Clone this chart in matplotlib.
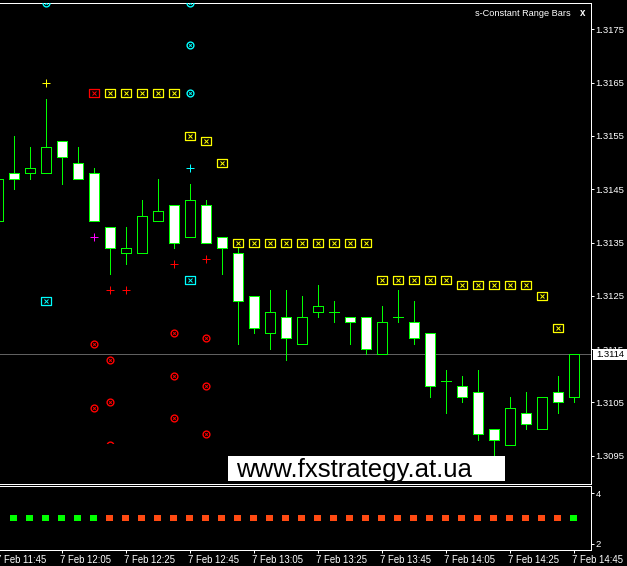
import matplotlib
matplotlib.use('Agg')
import matplotlib.pyplot as plt
from matplotlib.patches import Rectangle
from matplotlib.path import Path
import matplotlib.transforms as mtransforms

plt.rcParams['font.family'] = ['Liberation Sans', 'DejaVu Sans']

# ---------------- data ----------------
bar_index = list(range(-1, 36))
opens  = [1.3139, 1.3148, 1.3148, 1.3148, 1.3154, 1.3150, 1.3148, 1.3138, 1.3133, 1.3133,
          1.3139, 1.3142, 1.3136, 1.3142, 1.3136, 1.3133, 1.3125, 1.3118, 1.3121, 1.3116,
          1.3122, 1.3122, 1.3121, 1.3121, 1.3114, 1.3121, 1.3120, 1.3118, 1.3109, 1.3108,
          1.3107, 1.3100, 1.3097, 1.3103, 1.3100, 1.3107, 1.3106]
highs  = [1.3147, 1.3155, 1.3153, 1.3162, 1.3154, 1.3153, 1.3149, 1.3138, 1.3138, 1.3143,
          1.3147, 1.3142, 1.3146, 1.3143, 1.3136, 1.3134, 1.3125, 1.3126, 1.3126, 1.3125,
          1.3127, 1.3124, 1.3121, 1.3121, 1.3123, 1.3126, 1.3124, 1.3118, 1.3111, 1.3110,
          1.3111, 1.3100, 1.3106, 1.3107, 1.3106, 1.3110, 1.3114]
lows   = [1.3139, 1.3145, 1.3147, 1.3148, 1.3146, 1.3147, 1.3139, 1.3129, 1.3131, 1.3133,
          1.3139, 1.3134, 1.3136, 1.3135, 1.3129, 1.3116, 1.3118, 1.3115, 1.3113, 1.3116,
          1.3121, 1.3120, 1.3116, 1.3114, 1.3114, 1.3120, 1.3116, 1.3106, 1.3103, 1.3105,
          1.3098, 1.3095, 1.3097, 1.3100, 1.3100, 1.3103, 1.3105]
closes = [1.3147, 1.3147, 1.3149, 1.3153, 1.3151, 1.3147, 1.3139, 1.3134, 1.3134, 1.3140,
          1.3141, 1.3135, 1.3143, 1.3135, 1.3134, 1.3124, 1.3119, 1.3122, 1.3117, 1.3121,
          1.3123, 1.3122, 1.3120, 1.3115, 1.3120, 1.3121, 1.3117, 1.3108, 1.3109, 1.3106,
          1.3099, 1.3098, 1.3104, 1.3101, 1.3106, 1.3105, 1.3114]

current_price = 1.3114
price_ticks = [1.3095, 1.3105, 1.3115, 1.3125, 1.3135, 1.3145, 1.3155, 1.3165, 1.3175]

red_box_idx, red_box_px = [5], [1.3163]
yellow_box_idx = [6, 7, 8, 9, 10, 11, 12, 13, 14, 15, 16, 17, 18, 19, 20, 21, 22,
                  23, 24, 25, 26, 27, 28, 29, 30, 31, 32, 33, 34]
yellow_box_px = [1.3163, 1.3163, 1.3163, 1.3163, 1.3163, 1.3155, 1.3154, 1.3150,
                 1.3135, 1.3135, 1.3135, 1.3135, 1.3135, 1.3135, 1.3135, 1.3135, 1.3135,
                 1.3128, 1.3128, 1.3128, 1.3128, 1.3128,
                 1.3127, 1.3127, 1.3127, 1.3127, 1.3127, 1.3125, 1.3119]
cyan_box_idx, cyan_box_px = [2, 11], [1.3124, 1.3128]
cyan_circle_idx = [2, 11, 11, 11]
cyan_circle_px = [1.3180, 1.3180, 1.3172, 1.3163]
yellow_cross_idx, yellow_cross_px = [2], [1.3165]
cyan_cross_idx, cyan_cross_px = [11], [1.3149]
magenta_cross_idx, magenta_cross_px = [5], [1.3136]
red_cross_idx, red_cross_px = [6, 7, 10, 12], [1.3126, 1.3126, 1.3131, 1.3132]
red_circle_idx = [5, 5, 6, 6, 10, 10, 10, 12, 12, 12]
red_circle_px = [1.3116, 1.3104, 1.3113, 1.3105, 1.3118, 1.3110, 1.3102, 1.3117, 1.3108, 1.3099]
red_half_circle_idx, red_half_circle_px = [6], [1.3097]

signal_idx = list(range(0, 36))
signal_dir = [1, 1, 1, 1, 1, 1] + [-1] * 29 + [1]
signal_level = 3

time_tick_idx = [-1, 3, 7, 11, 15, 19, 23, 27, 31, 35]
time_labels = ['7 Feb 11:45', '7 Feb 12:05', '7 Feb 12:25', '7 Feb 12:45', '7 Feb 13:05',
               '7 Feb 13:25', '7 Feb 13:45', '7 Feb 14:05', '7 Feb 14:25', '7 Feb 14:45']

# ---------------- layout ----------------
W, H = 627, 566
fig = plt.figure(figsize=(W / 100, H / 100), dpi=100, facecolor='black')

def fx(px):
    return px / W

def fy(py):
    return 1 - py / H

GREEN = '#00FF00'
LW = 0.72

ax = fig.add_axes([0, fy(483.8), fx(590.5), fy(2.5) - fy(483.8)], facecolor='black')
ax2 = fig.add_axes([0, fy(550.3), fx(590.5), fy(485.8) - fy(550.3)], facecolor='black')

ax.set_xlim(-0.84375, 36.0625)
ax.set_ylim(1.308973, 1.318003)
ax2.set_xlim(-0.84375, 36.0625)
ax2.set_ylim(1.735, 4.29)

for a in (ax, ax2):
    a.spines['left'].set_visible(False)
    for s in ('top', 'right', 'bottom'):
        a.spines[s].set_color('white')
        a.spines[s].set_linewidth(LW)
        a.spines[s].set_antialiased(False)

# candles
for x, o, h, l, c in zip(bar_index, opens, highs, lows, closes):
    ax.vlines(x, l, h, color=GREEN, lw=LW, zorder=2, antialiased=False)
    lo, hi = min(o, c), max(o, c)
    fill = 'white' if c < o else 'black'
    ax.add_patch(Rectangle((x - 0.3125, lo), 0.625, hi - lo, facecolor=fill,
                           edgecolor=GREEN, lw=LW, zorder=3, antialiased=False))

ax.axhline(current_price, color='#606060', lw=LW, zorder=1, antialiased=False)

# markers
box_path = Path([(-4.5, -3.5), (4.5, -3.5), (4.5, 3.5), (-4.5, 3.5), (-4.5, -3.5)],
                [Path.MOVETO, Path.LINETO, Path.LINETO, Path.LINETO, Path.CLOSEPOLY])

def boxes(idx, px, color):
    ax.plot(idx, px, linestyle='none', marker=box_path, markersize=6.5,
            markerfacecolor='black', markeredgecolor=color, markeredgewidth=0.9,
            zorder=4, antialiased=False)
    ax.plot(idx, px, linestyle='none', marker='x', markersize=2.2,
            markeredgecolor=color, markeredgewidth=0.7, zorder=5, antialiased=False)

def circles(idx, px, color, clip=None):
    l1, = ax.plot(idx, px, linestyle='none', marker='o', markersize=4.9,
                  markerfacecolor='none', markeredgecolor=color, markeredgewidth=1.0,
                  zorder=4, antialiased=False)
    l2, = ax.plot(idx, px, linestyle='none', marker='x', markersize=1.8,
                  markeredgecolor=color, markeredgewidth=0.7, zorder=5, antialiased=False)
    if clip is not None:
        l1.set_clip_path(clip)
        l2.set_clip_path(clip)

def crosses(idx, px, color):
    ax.plot(idx, px, linestyle='none', marker='+', markersize=5.2,
            markeredgecolor=color, markeredgewidth=LW, zorder=4, antialiased=False)

boxes(red_box_idx, red_box_px, '#FF0000')
boxes(yellow_box_idx, yellow_box_px, '#FFFF00')
boxes(cyan_box_idx, cyan_box_px, '#00FFFF')
circles(cyan_circle_idx, cyan_circle_px, '#00FFFF')
circles(red_circle_idx, red_circle_px, '#FF0000')
clip_rect = Rectangle((-1, 1.30973), 40, 0.01, transform=ax.transData)
circles(red_half_circle_idx, red_half_circle_px, '#FF0000', clip=clip_rect)
crosses(yellow_cross_idx, yellow_cross_px, '#FFFF00')
crosses(cyan_cross_idx, cyan_cross_px, '#00FFFF')
crosses(magenta_cross_idx, magenta_cross_px, '#FF00FF')
crosses(red_cross_idx, red_cross_px, '#FF0000')

# price axis
ax.yaxis.tick_right()
ax.set_yticks(price_ticks)
ax.set_yticklabels(['%.4f' % p for p in price_ticks])
ax.tick_params(axis='y', colors='white', length=2.2, width=LW, pad=1.5, labelsize=6.8)
ax.set_xticks([])

# indicator sub-window
sig_colors = [GREEN if d > 0 else '#FF4A12' for d in signal_dir]
ax2.scatter(signal_idx, [signal_level] * len(signal_idx), marker='s', s=19,
            c=sig_colors, linewidths=0, zorder=3, antialiased=False)
ax2.yaxis.tick_right()
ax2.set_yticks([2, 4])
ax2.tick_params(axis='y', colors='white', length=2.2, width=LW, pad=1.5, labelsize=6.8)
ax2.set_xticks([t for t in time_tick_idx if t >= -0.8])
ax2.set_xticklabels([])
ax2.tick_params(axis='x', colors='white', length=2.2, width=LW, direction='out')
tr = mtransforms.blended_transform_factory(ax2.transData, fig.transFigure)
for t, lab in zip(time_tick_idx, time_labels):
    ax2.text(t - 0.1, fy(563.3), lab, transform=tr, ha='left', va='baseline',
             color='white', fontsize=6.9, clip_on=False)

# texts on the chart
ax.text(fx(571), fy(15.5), 's-Constant Range Bars', transform=fig.transFigure,
        ha='right', va='baseline', color='white', fontsize=6.6, zorder=10)
ax.text(fx(582.5), fy(15.5), 'x', transform=fig.transFigure, ha='center',
        va='baseline', color='white', fontsize=7, fontweight='bold', zorder=10)

ax.add_patch(Rectangle((fx(228), fy(480.7)), fx(505 - 228), fy(456.3) - fy(480.7),
                       transform=fig.transFigure, facecolor='white', edgecolor='none',
                       zorder=10, clip_on=False))
ax.text(fx(236), fy(477.5), 'www.fxstrategy.at.ua', transform=fig.transFigure,
        ha='left', va='baseline', color='black', fontsize=18.5, zorder=11)

# current price label
fig.add_artist(Rectangle((fx(592.7), fy(360.3)), fx(627 - 592.7), fy(349.3) - fy(360.3),
                         transform=fig.transFigure, facecolor='white', edgecolor='none',
                         zorder=5))
fig.text(fx(596), fy(354.8), '%.4f' % current_price, ha='left', va='center',
         color='black', fontsize=6.8, zorder=6)

fig.savefig('out.png', dpi=100, facecolor='black')
